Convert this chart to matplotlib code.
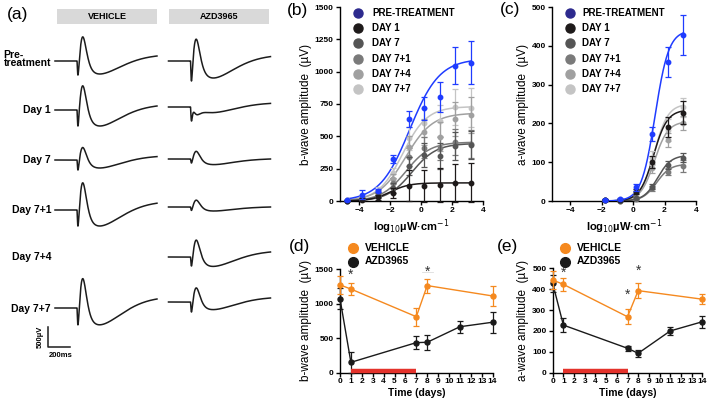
import numpy as np
import matplotlib
matplotlib.use("Agg")
import matplotlib.pyplot as plt

plt.rcParams['font.family'] = ['Liberation Sans', 'DejaVu Sans']

# ── (a) ERG traces: amplitudes in µV relative to baseline, baseline row in px ──
row_names   = ['Pre-\ntreatment', 'Day 1', 'Day 7', 'Day 7+1', 'Day 7+4', 'Day 7+7']
row_label_y = [59, 110, 160, 210, 257, 309]
veh_base   = [61, 110, 160, 210, None, 308]
veh_dip    = [350, 400, 250, 400, None, 420]
veh_peak   = [600, 600, 310, 675, None, 730]
veh_trough = [325, 400, 200, 400, None, 420]
veh_end    = [125, 100, 85, 170, None, 225]
azd_base   = [61, 107, 159, 207, 257, 302]
azd_dip    = [500, 350, 100, 85, 225, 250]
azd_peak   = [540, -190, 190, 170, 420, 350]
azd_trough = [425, 140, 140, 100, 235, 190]
azd_end    = [110, 90, 0, 0, 125, 100]

# ── (b)/(c) intensity series ──────────────────────────────────────────────────
series = ['PRE-TREATMENT', 'DAY 1', 'DAY 7', 'DAY 7+1', 'DAY 7+4', 'DAY 7+7']
log_b = [-4.8, -3.8, -2.8, -1.8, -0.8, 0.2, 1.2, 2.2, 3.2]
b_vals = [
    [5, 50, 80, 322, 634, 717, 807, 1047, 1070],
    [3, 10, 30, 60, 119, 118, 124, 138, 143],
    [3, 15, 40, 98, 271, 356, 348, 425, 435],
    [3, 18, 50, 137, 343, 412, 407, 459, 440],
    [4, 22, 60, 168, 420, 536, 497, 632, 665],
    [5, 25, 80, 214, 485, 606, 620, 725, 720],
]
b_errs = [
    [5, 35, 10, 30, 65, 90, 115, 145, 165],
    [3, 10, 20, 40, 120, 125, 130, 145, 150],
    [3, 8, 20, 40, 70, 90, 100, 110, 110],
    [3, 8, 20, 40, 70, 80, 90, 100, 110],
    [3, 10, 25, 40, 80, 100, 110, 130, 140],
    [3, 12, 30, 45, 90, 110, 120, 140, 150],
]
b_fit_top   = [1100, 140, 445, 455, 680, 730]
b_fit_mid   = [-0.75, -2.0, -0.6, -1.0, -1.0, -1.2]
b_fit_slope = [0.45, 0.7, 0.55, 0.55, 0.5, 0.55]

log_c = [-1.8, -0.8, 0.2, 1.2, 2.2, 3.2]
c_vals = [
    [3, 5, 35, 172, 358, 428],
    [3, 2, 24, 101, 191, 228],
    [2, 1, 7, 37, 93, 112],
    [2, 1, 6, 33, 76, 91],
    [3, 2, 20, 84, 157, 200],
    [3, 4, 26, 110, 183, 241],
]
c_errs = [
    [2, 3, 8, 18, 38, 52],
    [2, 2, 6, 15, 25, 30],
    [1, 1, 3, 6, 10, 12],
    [1, 1, 3, 6, 10, 15],
    [2, 2, 6, 12, 18, 18],
    [2, 2, 6, 18, 28, 25],
]
c_fit_top   = [440, 235, 118, 95, 205, 250]
c_fit_mid   = [1.4, 1.3, 1.55, 1.5, 1.35, 1.35]
c_fit_slope = [1.0, 1.0, 1.0, 1.0, 1.0, 1.0]

# ── (d)/(e) time course ───────────────────────────────────────────────────────
days_veh = [0, 1, 7, 8, 14]
days_azd = [0, 1, 7, 8, 11, 14]
d_veh = [1270, 1210, 810, 1260, 1110]
d_veh_err = [130, 90, 130, 100, 150]
d_azd = [1070, 150, 435, 440, 665, 730]
d_azd_err = [150, 150, 90, 110, 90, 150]
e_veh = [444, 423, 268, 393, 352]
e_veh_err = [45, 30, 35, 35, 25]
e_azd = [428, 228, 117, 93, 200, 244]
e_azd_err = [40, 35, 12, 18, 18, 28]
d_star_day = [1, 8]
d_star_val = [1420, 1460]
e_star_day = [1, 7, 8]
e_star_val = [480, 375, 490]
treat_days = [1, 7]

pt_colors  = ['#1f3cff', '#1e1a1a', '#555555', '#7a7a7a', '#a0a0a0', '#c4c4c4']
leg_colors = ['#2d2a8e', '#1e1a1a', '#555555', '#7a7a7a', '#a0a0a0', '#c4c4c4']
ORANGE = '#f5891f'
BLACK = '#1a1a1a'
RED = '#e4322b'

W, H = 709, 404
fig = plt.figure(figsize=(W / 100, H / 100), dpi=100)

# overlay axes in pixel coordinates for panel (a) and free text
ov = fig.add_axes([0, 0, 1, 1], zorder=5)
ov.set_xlim(0, W)
ov.set_ylim(H, 0)
ov.axis('off')
ov.patch.set_alpha(0)


def erg_basis(t):
    t = np.clip(np.asarray(t, float), 0, None)
    x = t / 9
    a = -(x ** 2) * np.exp(2 * (1 - x))
    x = t / 55
    b = x ** 4 * np.exp(4 * (1 - x))
    x = t / 210
    c = -(x ** 2) * np.exp(2 * (1 - x))
    d = (1 - np.exp(-t / 60)) / (1 + np.exp(-(t - 450) / 120))
    return np.vstack([a, b, c, d])


t_ms = np.linspace(-200, 727, 2500)
PX_PER_MS = 22 / 200
UV_PER_PX = 25
key_t = [9, 55, 210, 727]


def draw_trace(flash_x, base, dip, peak, trough, end):
    M = erg_basis(key_t).T
    k = np.linalg.solve(M, [-dip, peak, -trough, end])
    v = k @ erg_basis(t_ms)
    v[t_ms <= 0] = 0
    ov.plot(flash_x + t_ms * PX_PER_MS, base - v / UV_PER_PX,
            color='#1c1c1c', lw=1.1, solid_joinstyle='round')


for i in range(6):
    if veh_base[i] is not None:
        draw_trace(77, veh_base[i], veh_dip[i], veh_peak[i], veh_trough[i], veh_end[i])
    draw_trace(190.5, azd_base[i], azd_dip[i], azd_peak[i], azd_trough[i], azd_end[i])
    ov.text(51, row_label_y[i], row_names[i], ha='right', va='center',
            multialignment='left', fontsize=7.5, fontweight='bold', linespacing=0.85)

# header boxes
for x0, x1, lab in [(57, 157, 'VEHICLE'), (169, 269, 'AZD3965')]:
    ov.add_patch(plt.Rectangle((x0, 9), x1 - x0, 14.5, color='#d9d9d9', lw=0))
    ov.text((x0 + x1) / 2, 16.5, lab, ha='center', va='center',
            fontsize=6.5, fontweight='bold')

# scale bar
ov.plot([48.3, 48.3, 48.3 + 200 * PX_PER_MS],
        [346.7 - 500 / UV_PER_PX, 346.7, 346.7], color='#1c1c1c', lw=1.1)
ov.text(40, 336.5, '500µV', rotation=90, ha='center', va='center',
        fontsize=5.5, fontweight='bold')
ov.text(61, 355.5, '200ms', ha='center', va='center', fontsize=5.5, fontweight='bold')

# panel letters
for (x, y, lab) in [(17.5, 14.5, '(a)'), (297.5, 11, '(b)'), (510, 9.5, '(c)'),
                    (299.5, 246, '(d)'), (507.5, 246, '(e)')]:
    ov.text(x, y, lab, ha='center', va='center', fontsize=12.5)


def style(ax, ylabel):
    for s in ['top', 'right']:
        ax.spines[s].set_visible(False)
    for s in ['left', 'bottom']:
        ax.spines[s].set_linewidth(1.0)
    ax.tick_params(length=3, width=1.0, labelsize=6, pad=1.5)
    for lab in ax.get_xticklabels() + ax.get_yticklabels():
        lab.set_fontweight('bold')
    ax.set_ylabel(ylabel, fontsize=8.5, labelpad=2)


def fig_rect(l, r, t, b):
    return [l / W, 1 - b / H, (r - l) / W, (b - t) / H]


def hill(x, top, mid, slope):
    return top / (1 + 10 ** ((mid - np.asarray(x)) * slope))


# ── (b) ──
ax_b = fig.add_axes(fig_rect(340, 483, 7, 201))
ax_b.set_xlim(-5.25, 4.0)
ax_b.set_ylim(0, 1500)
ax_b.set_xticks([-4, -2, 0, 2, 4])
ax_b.set_yticks([0, 250, 500, 750, 1000, 1250, 1500])
for i in range(5, -1, -1):
    xs = np.linspace(log_b[0], log_b[-1], 200)
    ax_b.plot(xs, hill(xs, b_fit_top[i], b_fit_mid[i], b_fit_slope[i]),
              color=pt_colors[i], lw=1.1, zorder=2 + (6 - i) * 0.1)
    ax_b.errorbar(log_b, b_vals[i], yerr=b_errs[i], fmt='o', ms=3.2,
                  color=pt_colors[i], ecolor=pt_colors[i], elinewidth=0.9,
                  capsize=2, capthick=0.9, zorder=3 + (6 - i) * 0.1, clip_on=False)
style(ax_b, 'b-wave amplitude  (µV)')
ax_b.set_xlabel(r'log$_{10}$µW·cm$^{-1}$', fontsize=8, fontweight='bold', labelpad=2)

# ── (c) ──
ax_c = fig.add_axes(fig_rect(552, 696, 7, 201))
ax_c.set_xlim(-5.15, 4.0)
ax_c.set_ylim(0, 500)
ax_c.set_xticks([-4, -2, 0, 2, 4])
ax_c.set_yticks([0, 100, 200, 300, 400, 500])
for i in range(5, -1, -1):
    xs = np.linspace(log_c[0], log_c[-1], 200)
    ax_c.plot(xs, hill(xs, c_fit_top[i], c_fit_mid[i], c_fit_slope[i]),
              color=pt_colors[i], lw=1.1, zorder=2 + (6 - i) * 0.1)
    ax_c.errorbar(log_c, c_vals[i], yerr=c_errs[i], fmt='o', ms=3.2,
                  color=pt_colors[i], ecolor=pt_colors[i], elinewidth=0.9,
                  capsize=2, capthick=0.9, zorder=3 + (6 - i) * 0.1, clip_on=False)
style(ax_c, 'a-wave amplitude  (µV)')
ax_c.set_xlabel(r'log$_{10}$µW·cm$^{-1}$', fontsize=8, fontweight='bold', labelpad=2)

# legends for (b) and (c)
for mx, tx in [(358, 372), (570, 582)]:
    for i, name in enumerate(series):
        y = 12.7 + 15.3 * i
        ov.plot([mx], [y], 'o', ms=6.5, color=leg_colors[i])
        ov.text(tx, y, name, ha='left', va='center', fontsize=7, fontweight='bold')

# ── (d) and (e) ──
def time_panel(rect, ylim, yticks, veh, veh_err, azd, azd_err, sday, sval, ylabel):
    ax = fig.add_axes(rect)
    ax.set_xlim(0, 14)
    ax.set_ylim(*ylim)
    ax.set_xticks(range(15))
    ax.set_yticks(yticks)
    ax.errorbar(days_azd, azd, yerr=azd_err, fmt='-o', ms=3.6, color=BLACK,
                lw=1.0, elinewidth=0.9, capsize=2, capthick=0.9, clip_on=False, zorder=3)
    ax.errorbar(days_veh, veh, yerr=veh_err, fmt='-o', ms=3.6, color=ORANGE,
                lw=1.0, elinewidth=0.9, capsize=2, capthick=0.9, clip_on=False, zorder=4)
    for d, v in zip(sday, sval):
        ax.text(d, v, '*', ha='center', va='center', fontsize=10, color='#333333')
    yb = ylim[1] * 0.012
    ax.plot(treat_days, [yb, yb], color=RED, lw=3.2, solid_capstyle='butt',
            clip_on=False, zorder=5)
    style(ax, ylabel)
    ax.tick_params(axis='x', pad=1)
    ax.set_xlabel('Time (days)', fontsize=7.5, fontweight='bold', labelpad=2)
    return ax


ax_d = time_panel(fig_rect(340, 492.6, 269, 372.7), (0, 1500), [0, 500, 1000, 1500],
                  d_veh, d_veh_err, d_azd, d_azd_err, d_star_day, d_star_val,
                  'b-wave amplitude  (µV)')
ax_d.plot([7.5, 8.5], [1460, 1460], color='#dddddd', lw=0.6, zorder=1)
ax_e = time_panel(fig_rect(552.7, 702.3, 268.3, 372.7), (0, 500), [0, 100, 200, 300, 400, 500],
                  e_veh, e_veh_err, e_azd, e_azd_err, e_star_day, e_star_val,
                  'a-wave amplitude  (µV)')

for mx, tx in [(353, 365), (565, 577)]:
    for y, c, lab in [(248.3, ORANGE, 'VEHICLE'), (261.5, BLACK, 'AZD3965')]:
        ov.plot([mx], [y], 'o', ms=7, color=c)
        ov.text(tx, y, lab, ha='left', va='center', fontsize=7.5, fontweight='bold')

fig.savefig('out.png', dpi=100)
